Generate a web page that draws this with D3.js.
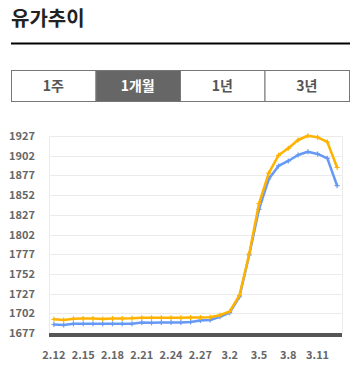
<!DOCTYPE html>
<html><head><meta charset="utf-8">
<script src="https://cdn.jsdelivr.net/npm/d3@7"></script>
<style>
body{margin:0;background:#fff;}
svg{display:block;}
</style></head>
<body>
<svg id="c" width="360" height="369"></svg>
<script>
const title = "유가추이";
const tabs = ["1주", "1개월", "1년", "3년"];
const activeTab = 1;
const dates = ["2.12","2.13","2.14","2.15","2.16","2.17","2.18","2.19","2.20","2.21","2.22","2.23","2.24","2.25","2.26","2.27","2.28","3.1","3.2","3.3","3.4","3.5","3.6","3.7","3.8","3.9","3.10","3.11","3.12","3.13"];
const xTickLabels = ["2.12","2.15","2.18","2.21","2.24","2.27","3.2","3.5","3.8","3.11"];
const yTicks = [1677,1702,1727,1752,1777,1802,1827,1852,1877,1902,1927];
const seriesYellow = [1694.4,1693.5,1695.1,1695.4,1695.4,1694.8,1695.4,1695.4,1695.7,1696.4,1696.4,1696.4,1696.4,1696.4,1696.7,1696.7,1697.0,1699.6,1704.3,1724.6,1777.3,1841.3,1880.0,1902.5,1911.4,1921.9,1927.3,1925.4,1919.4,1887.0];
const seriesBlue = [1687.8,1687.2,1688.8,1688.8,1688.8,1688.8,1688.8,1688.8,1688.8,1690.3,1690.1,1690.3,1690.3,1690.3,1691.0,1692.9,1693.5,1697.6,1702.8,1723.0,1776.0,1834.0,1872.4,1889.0,1895.3,1902.9,1907.0,1904.2,1898.7,1863.9];

(function(){
const svg = d3.select("#c");
const font = "'Noto Sans CJK KR','Noto Sans',sans-serif";

// title
svg.append("text").attr("x", 11).attr("y", 26).text(title)
  .attr("font-family", font).attr("font-size", 20).attr("font-weight", 700).attr("fill", "#222");
svg.append("line").attr("x1", 11).attr("x2", 350).attr("y1", 43.5).attr("y2", 43.5)
  .attr("stroke", "#000").attr("stroke-width", 2);

// tabs
const tabX = d3.scaleBand().domain(tabs).range([11, 349]);
const tg = svg.append("g");
tabs.forEach((t, i) => {
  tg.append("rect").attr("x", tabX(t) + 0.5).attr("y", 70.5).attr("width", tabX.bandwidth()).attr("height", 31)
    .attr("fill", i === activeTab ? "#666" : "#fff").attr("stroke", "#777").attr("stroke-width", 1);
  tg.append("text").attr("x", tabX(t) + tabX.bandwidth() / 2).attr("y", 91).attr("text-anchor", "middle")
    .text(t).attr("font-family", font).attr("font-size", 14).attr("font-weight", 700)
    .attr("fill", i === activeTab ? "#fff" : "#555");
});

// chart
const pLeft = 49, pRight = 342, pTop = 136, pBottom = 333;
const x = d3.scaleBand().domain(dates).range([pLeft, pRight]).padding(0);
const cx = d => x(d) + x.bandwidth() / 2;
const y = d3.scaleLinear().domain([1677, 1927]).range([pBottom, pTop]);

const grid = svg.append("g");
grid.selectAll("line.h").data(yTicks).join("line").attr("class", "h")
  .attr("x1", pLeft).attr("x2", pRight).attr("y1", d => Math.round(y(d)) + 0.5).attr("y2", d => Math.round(y(d)) + 0.5)
  .attr("stroke", "#ebebeb").attr("stroke-width", 1);
[pLeft, pRight].forEach(xx => grid.append("line").attr("x1", xx + 0.5).attr("x2", xx + 0.5)
  .attr("y1", pTop).attr("y2", pBottom).attr("stroke", "#ebebeb"));

// y axis labels
const yAxis = d3.axisLeft(y).tickValues(yTicks).tickSize(0).tickPadding(0).tickFormat(d3.format("d"));
const ya = svg.append("g").attr("transform", `translate(35,0)`).call(yAxis);
ya.select(".domain").remove();
ya.selectAll("text").attr("font-family", font).attr("font-size", 11).attr("font-weight", 700).attr("fill", "#666");

// x axis labels
const xAxis = d3.axisBottom(x).tickValues(xTickLabels).tickSize(0).tickPadding(0);
const xa = svg.append("g").attr("transform", `translate(0,351)`).call(xAxis);
xa.select(".domain").remove();
xa.selectAll("text").attr("font-family", font).attr("font-size", 11).attr("font-weight", 700).attr("fill", "#666");

// bottom bar
svg.append("rect").attr("x", pLeft).attr("y", pBottom).attr("width", pRight - pLeft).attr("height", 4).attr("fill", "#555");

const line = d3.line().x((d, i) => cx(dates[i])).y(d => y(d));
function drawSeries(data, color) {
  svg.append("path").datum(data).attr("d", line).attr("fill", "none")
    .attr("stroke", color).attr("stroke-width", 2.5).attr("stroke-linejoin", "round");
  const g = svg.append("g");
  data.forEach((v, i) => {
    const px = cx(dates[i]), py = y(v);
    g.append("path").attr("d", `M${px-2.5},${py}H${px+2.5}M${px},${py-2.5}V${py+2.5}`)
      .attr("stroke", color).attr("stroke-width", 1.2);
  });
}
drawSeries(seriesBlue, "#6699f5");
drawSeries(seriesYellow, "#ffb300");
})();
</script>
</body></html>
